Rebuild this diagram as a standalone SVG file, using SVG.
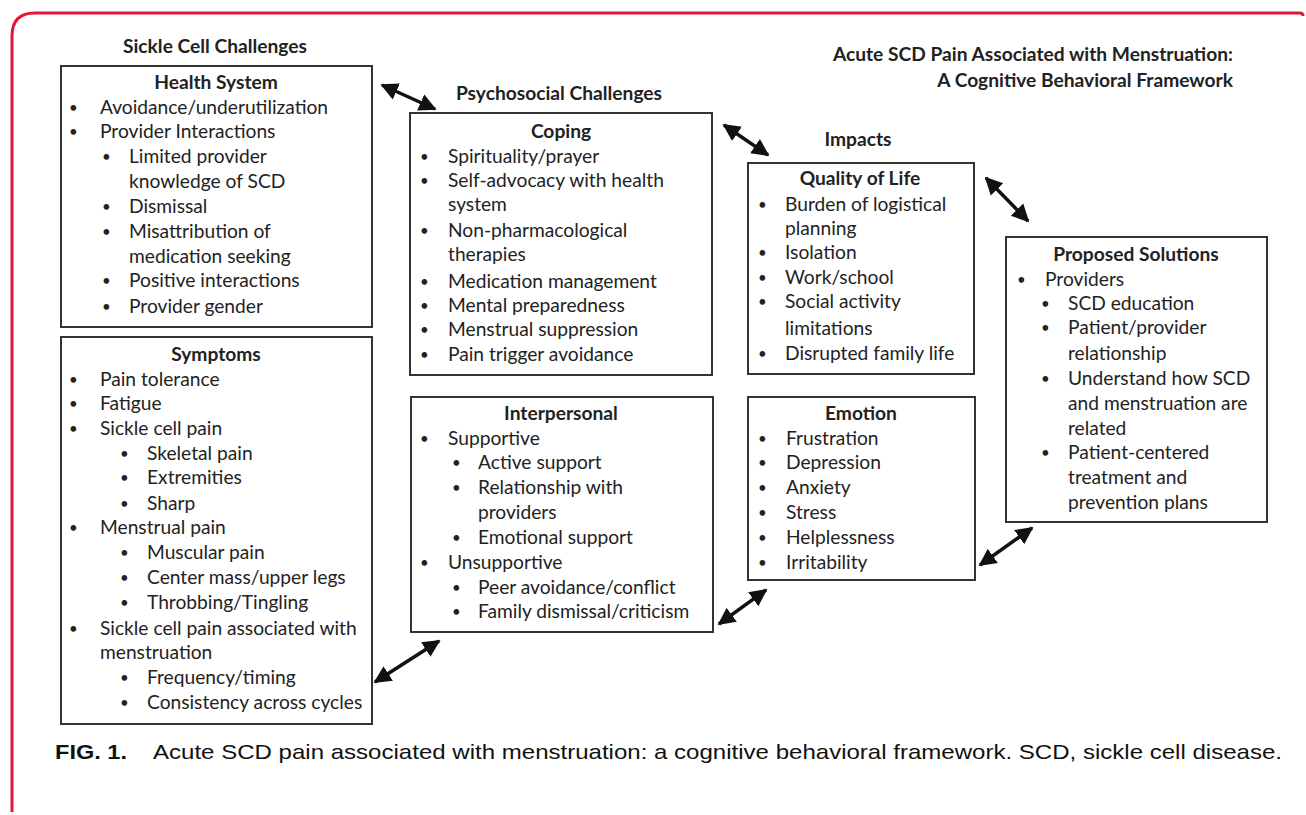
<svg xmlns="http://www.w3.org/2000/svg" width="1306" height="815" viewBox="0 0 1306 815">
<defs>
<style>
.t{font-family:Lato,"Liberation Sans",sans-serif;font-size:19.2px;fill:#222}
.b{font-family:Lato,"Liberation Sans",sans-serif;font-size:15px;fill:#222}
.h{font-family:Lato,"Liberation Sans",sans-serif;font-size:19.2px;font-weight:bold;fill:#222}
.c{text-anchor:middle}
.box{fill:#fff;stroke:#333;stroke-width:2}
.arr{stroke:#111;stroke-width:3.5;fill:none;marker-start:url(#ah);marker-end:url(#ah)}
.cap{font-family:"Liberation Sans",sans-serif;font-size:21px;fill:#111}
</style>
<marker id="ah" viewBox="0 0 10 10" refX="9" refY="5" markerWidth="5" markerHeight="5.6" orient="auto-start-reverse" markerUnits="strokeWidth">
<path d="M0,0 L10,5 L0,10 z" fill="#111"/>
</marker>
</defs>
<rect width="1306" height="815" fill="#fff"/>
<path d="M12,812 L12,36 Q12,13 35,13 L1300,13 Q1303,13 1303,16" fill="none" stroke="#e2173b" stroke-width="3"/>

<g id="headings">
<text class="h c" x="215" y="53">Sickle Cell Challenges</text>
<text class="h c" x="559" y="100">Psychosocial Challenges</text>
<text class="h c" x="858" y="146">Impacts</text>
<text class="h" x="1233" y="61" text-anchor="end">Acute SCD Pain Associated with Menstruation:</text>
<text class="h" x="1233" y="87" text-anchor="end">A Cognitive Behavioral Framework</text>
</g>

<g id="health-system">
<rect class="box" x="61" y="66" width="311" height="261"/>
<text class="h c" x="216" y="89">Health System</text>
<g class="b">
<text x="69" y="113">•</text><text x="69" y="137">•</text><text x="102" y="162">•</text><text x="102" y="212">•</text><text x="102" y="237">•</text><text x="102" y="286">•</text><text x="102" y="312">•</text>
</g>
<g class="t">
<text x="100" y="114">Avoidance/underutilization</text>
<text x="100" y="138">Provider Interactions</text>
<text x="129" y="163">Limited provider</text>
<text x="129" y="188">knowledge of SCD</text>
<text x="129" y="213">Dismissal</text>
<text x="129" y="238">Misattribution of</text>
<text x="129" y="263">medication seeking</text>
<text x="129" y="287">Positive interactions</text>
<text x="129" y="313">Provider gender</text>
</g>
</g>

<g id="symptoms">
<rect class="box" x="61" y="337" width="311" height="387"/>
<text class="h c" x="216" y="361">Symptoms</text>
<g class="b">
<text x="69" y="385">•</text><text x="69" y="409">•</text><text x="69" y="434">•</text><text x="120" y="459">•</text><text x="120" y="483">•</text><text x="120" y="509">•</text><text x="69" y="533">•</text><text x="120" y="558">•</text><text x="120" y="583">•</text><text x="120" y="608">•</text><text x="69" y="634">•</text><text x="120" y="683">•</text><text x="120" y="708">•</text>
</g>
<g class="t">
<text x="100" y="386">Pain tolerance</text>
<text x="100" y="410">Fatigue</text>
<text x="100" y="435">Sickle cell pain</text>
<text x="147" y="460">Skeletal pain</text>
<text x="147" y="484">Extremities</text>
<text x="147" y="510">Sharp</text>
<text x="100" y="534">Menstrual pain</text>
<text x="147" y="559">Muscular pain</text>
<text x="147" y="584">Center mass/upper legs</text>
<text x="147" y="609">Throbbing/Tingling</text>
<text x="100" y="635">Sickle cell pain associated with</text>
<text x="100" y="659">menstruation</text>
<text x="147" y="684">Frequency/timing</text>
<text x="147" y="709">Consistency across cycles</text>
</g>
</g>

<g id="coping">
<rect class="box" x="410" y="113" width="302" height="262"/>
<text class="h c" x="561" y="138">Coping</text>
<g class="b">
<text x="420" y="162">•</text><text x="420" y="186">•</text><text x="420" y="236">•</text><text x="420" y="287">•</text><text x="420" y="311">•</text><text x="420" y="335">•</text><text x="420" y="360">•</text>
</g>
<g class="t">
<text x="448" y="163">Spirituality/prayer</text>
<text x="448" y="187">Self-advocacy with health</text>
<text x="448" y="211">system</text>
<text x="448" y="237">Non-pharmacological</text>
<text x="448" y="261">therapies</text>
<text x="448" y="288">Medication management</text>
<text x="448" y="312">Mental preparedness</text>
<text x="448" y="336">Menstrual suppression</text>
<text x="448" y="361">Pain trigger avoidance</text>
</g>
</g>

<g id="interpersonal">
<rect class="box" x="411" y="397" width="302" height="235"/>
<text class="h c" x="561" y="420">Interpersonal</text>
<g class="b">
<text x="420" y="444">•</text><text x="452" y="468">•</text><text x="452" y="493">•</text><text x="452" y="543">•</text><text x="420" y="568">•</text><text x="452" y="593">•</text><text x="452" y="617">•</text>
</g>
<g class="t">
<text x="448" y="445">Supportive</text>
<text x="478" y="469">Active support</text>
<text x="478" y="494">Relationship with</text>
<text x="478" y="519">providers</text>
<text x="478" y="544">Emotional support</text>
<text x="448" y="569">Unsupportive</text>
<text x="478" y="594">Peer avoidance/conflict</text>
<text x="478" y="618">Family dismissal/criticism</text>
</g>
</g>

<g id="quality-of-life">
<rect class="box" x="748" y="163" width="226" height="211"/>
<text class="h c" x="860" y="185">Quality of Life</text>
<g class="b">
<text x="758" y="210">•</text><text x="758" y="258">•</text><text x="758" y="283">•</text><text x="758" y="307">•</text><text x="758" y="359">•</text>
</g>
<g class="t">
<text x="785" y="211">Burden of logistical</text>
<text x="785" y="235">planning</text>
<text x="785" y="259">Isolation</text>
<text x="785" y="284">Work/school</text>
<text x="785" y="308">Social activity</text>
<text x="785" y="335">limitations</text>
<text x="785" y="360">Disrupted family life</text>
</g>
</g>

<g id="emotion">
<rect class="box" x="748" y="397" width="227" height="183"/>
<text class="h c" x="861" y="420">Emotion</text>
<g class="b">
<text x="758" y="444">•</text><text x="758" y="468">•</text><text x="758" y="493">•</text><text x="758" y="518">•</text><text x="758" y="543">•</text><text x="758" y="568">•</text>
</g>
<g class="t">
<text x="786" y="445">Frustration</text>
<text x="786" y="469">Depression</text>
<text x="786" y="494">Anxiety</text>
<text x="786" y="519">Stress</text>
<text x="786" y="544">Helplessness</text>
<text x="786" y="569">Irritability</text>
</g>
</g>

<g id="proposed-solutions">
<rect class="box" x="1006" y="237" width="261" height="285"/>
<text class="h c" x="1136" y="261">Proposed Solutions</text>
<g class="b">
<text x="1017" y="285">•</text><text x="1041" y="309">•</text><text x="1041" y="333">•</text><text x="1041" y="384">•</text><text x="1041" y="458">•</text>
</g>
<g class="t">
<text x="1045" y="286">Providers</text>
<text x="1068" y="310">SCD education</text>
<text x="1068" y="334">Patient/provider</text>
<text x="1068" y="360">relationship</text>
<text x="1068" y="385">Understand how SCD</text>
<text x="1068" y="410">and menstruation are</text>
<text x="1068" y="435">related</text>
<text x="1068" y="459">Patient-centered</text>
<text x="1068" y="484">treatment and</text>
<text x="1068" y="509">prevention plans</text>
</g>
</g>

<g id="connectors">
<line class="arr" x1="382" y1="85" x2="435" y2="109"/>
<line class="arr" x1="724" y1="125" x2="768" y2="155"/>
<line class="arr" x1="986" y1="178" x2="1028" y2="221"/>
<line class="arr" x1="980" y1="565" x2="1032" y2="528"/>
<line class="arr" x1="719" y1="624" x2="766" y2="590"/>
<line class="arr" x1="375" y1="682" x2="439" y2="641"/>
</g>

<g id="caption">
<text class="cap" x="55" y="759" font-weight="bold" textLength="72" lengthAdjust="spacingAndGlyphs">FIG. 1.</text>
<text class="cap" x="153" y="759" textLength="1129" lengthAdjust="spacingAndGlyphs">Acute SCD pain associated with menstruation: a cognitive behavioral framework. SCD, sickle cell disease.</text>
</g>
</svg>
